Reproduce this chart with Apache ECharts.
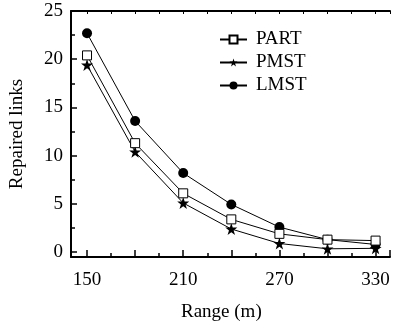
<!DOCTYPE html>
<html><head><meta charset="utf-8">
<script src="https://cdn.jsdelivr.net/npm/echarts@6/dist/echarts.min.js"></script>
<style>html,body{margin:0;padding:0;background:#fff}#c{width:393px;height:327px}</style>
</head><body><div id="c"></div>
<script>
const ranges = [150, 180, 210, 240, 270, 300, 330];
const part = [20.4, 11.3, 6.1, 3.4, 1.9, 1.3, 1.2];
const pmst = [19.4, 10.4, 5.1, 2.4, 0.9, 0.35, 0.4];
const lmst = [22.7, 13.6, 8.2, 4.95, 2.6, 1.3, 0.8];
const xLabelStep = 60;

const font = 'Liberation Serif';
const chart = echarts.init(document.getElementById('c'));
const pair = a => ranges.map((x, i) => [x, a[i]]);
chart.setOption({
  animation: false,
  grid: [{left: 70, top: 11, right: 0, bottom: 70}],
  legend: {
    orient: 'vertical', left: 219, top: 30, itemWidth: 27, itemHeight: 10, itemGap: 4, padding: 0,
    textStyle: {fontFamily: font, fontSize: 19, color: '#000', padding: [0, 0, 0, 4]},
    data: ['PART', 'PMST', 'LMST']
  },
  graphic: [{type: 'text', left: 181, top: 303, style: {text: 'Range (m)', font: '19px "Liberation Serif"', fill: '#000'}}],
  xAxis: [
    {type: 'value', position: 'bottom', min: 140, max: 339,
     axisLine: {show: true, onZero: false, lineStyle: {color: '#000', width: 2}},
     axisTick: {show: true, inside: true, length: 7, lineStyle: {color: '#000', width: 1.5}},
     minorTick: {show: true, splitNumber: 2, length: 4, lineStyle: {color: '#000', width: 1.5}},
     axisLabel: {fontFamily: font, fontSize: 19, color: '#000', margin: 14,
       formatter: v => ((v - 150) % xLabelStep === 0 ? String(v) : '')},
     splitLine: {show: false}},
    {type: 'value', position: 'top', min: 140, max: 339,
     axisLine: {show: true, onZero: false, lineStyle: {color: '#000', width: 2}},
     axisTick: {show: true, inside: true, length: 3, lineStyle: {color: '#000', width: 1}},
     minorTick: {show: true, splitNumber: 2, length: 3, lineStyle: {color: '#000', width: 1}},
     axisLabel: {show: false}, splitLine: {show: false}}
  ],
  yAxis: [
    {type: 'value', position: 'left', min: -0.5, max: 25,
     name: 'Repaired links', nameLocation: 'middle', nameGap: 44,
     nameTextStyle: {fontFamily: font, fontSize: 19, color: '#000'},
     axisLine: {show: true, onZero: false, lineStyle: {color: '#000', width: 2}},
     axisTick: {show: true, inside: true, length: 6, lineStyle: {color: '#000', width: 1.5}},
     minorTick: {show: true, splitNumber: 2, length: 4, lineStyle: {color: '#000', width: 1.5}},
     axisLabel: {fontFamily: font, fontSize: 19, color: '#000', margin: 8},
     splitLine: {show: false}}
  ],
  series: [
    {name: 'PART', type: 'line', data: pair(part), symbol: 'rect', symbolSize: 9,
     itemStyle: {color: '#fff', borderColor: '#000', borderWidth: 1},
     lineStyle: {color: '#000', width: 1}, z: 3},
    {name: 'PMST', type: 'line', data: pair(pmst),
     symbol: 'path://M50,0 L61.8,35.1 L98.8,35.1 L68.9,56.9 L80.3,91.9 L50,70.2 L19.7,91.9 L31.1,56.9 L1.2,35.1 L38.2,35.1 Z',
     symbolSize: 12, itemStyle: {color: '#000', borderColor: '#000', borderWidth: 0},
     lineStyle: {color: '#000', width: 1}, z: 2},
    {name: 'LMST', type: 'line', data: pair(lmst), symbol: 'circle', symbolSize: 10,
     itemStyle: {color: '#000', borderColor: '#000', borderWidth: 0},
     lineStyle: {color: '#000', width: 1}, z: 1}
  ]
});
</script></body></html>
